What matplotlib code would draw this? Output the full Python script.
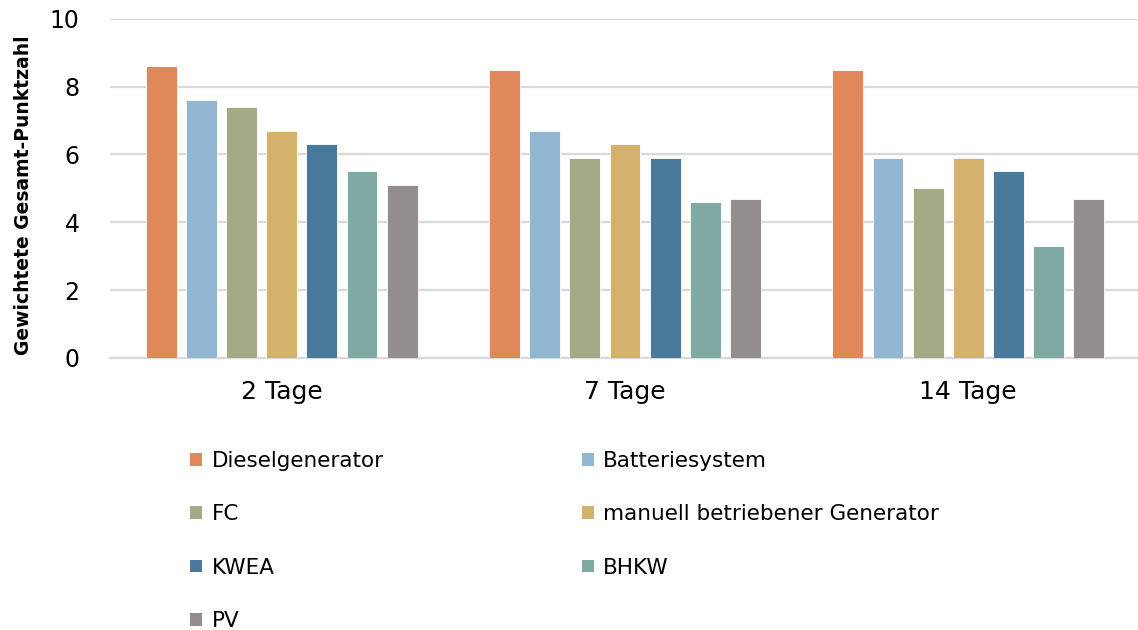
import matplotlib
matplotlib.use("Agg")
import matplotlib.pyplot as plt
import numpy as np
from matplotlib.patches import Patch

categories = ["2 Tage", "7 Tage", "14 Tage"]
series_names = ["Dieselgenerator", "Batteriesystem", "FC", "manuell betriebener Generator",
                "KWEA", "BHKW", "PV"]
diesel = [8.6, 8.5, 8.5]
batterie = [7.6, 6.7, 5.9]
fc = [7.4, 5.9, 5.0]
manuell = [6.7, 6.3, 5.9]
kwea = [6.3, 5.9, 5.5]
bhkw = [5.5, 4.6, 3.3]
pv = [5.1, 4.7, 4.7]
yticks = [0, 2, 4, 6, 8, 10]
ylabel = "Gewichtete Gesamt-Punktzahl"

values = [diesel, batterie, fc, manuell, kwea, bhkw, pv]
colors = ["#E0885A", "#91B6D2", "#A2AB85", "#D4B26B", "#4A7A9B", "#7EAAA3", "#948D8D"]

plt.rcParams['font.family'] = ['DejaVu Sans']

fig = plt.figure(figsize=(11.38, 6.30), dpi=100)
ax = fig.add_axes([0.0967, 0.432, 0.905, 0.538])

x = np.arange(len(categories))
step = 0.117
width = 0.09
n = len(values)
for i, (vals, c) in enumerate(zip(values, colors)):
    ax.bar(x + (i - (n - 1) / 2) * step, vals, width=width, color=c,
           edgecolor="white", linewidth=0.6, zorder=3, label=series_names[i])

ax.set_xlim(-0.5, 2.5)
ax.set_ylim(0, 10)
ax.set_yticks(yticks)
ax.set_xticks(x)
ax.set_xticklabels(categories, fontsize=18)
ax.tick_params(axis='x', length=0, pad=16)
ax.tick_params(axis='y', length=0, pad=22, labelsize=17)
ax.grid(axis='y', color="#D9D9D9", linewidth=1.6, zorder=0)
for s in ["top", "right", "left"]:
    ax.spines[s].set_visible(False)
ax.spines["bottom"].set_color("#D9D9D9")
ax.spines["bottom"].set_linewidth(1.6)
ax.set_ylabel(ylabel, fontsize=13.5, fontweight="bold")
ax.yaxis.set_label_coords(-0.075, 0.48)

order = [0, 2, 4, 6, 1, 3, 5]
handles = [Patch(facecolor=colors[i], edgecolor="none") for i in order]
labels = [series_names[i] for i in order]
leg = fig.legend(handles, labels, ncol=2, loc="upper left",
                 bbox_to_anchor=(0.1595, 0.298), frameon=False, fontsize=15.5,
                 handlelength=0.55, handleheight=0.55, handletextpad=0.45,
                 labelspacing=1.55, columnspacing=9.2, borderaxespad=0)

fig.savefig("out.png", dpi=100)
